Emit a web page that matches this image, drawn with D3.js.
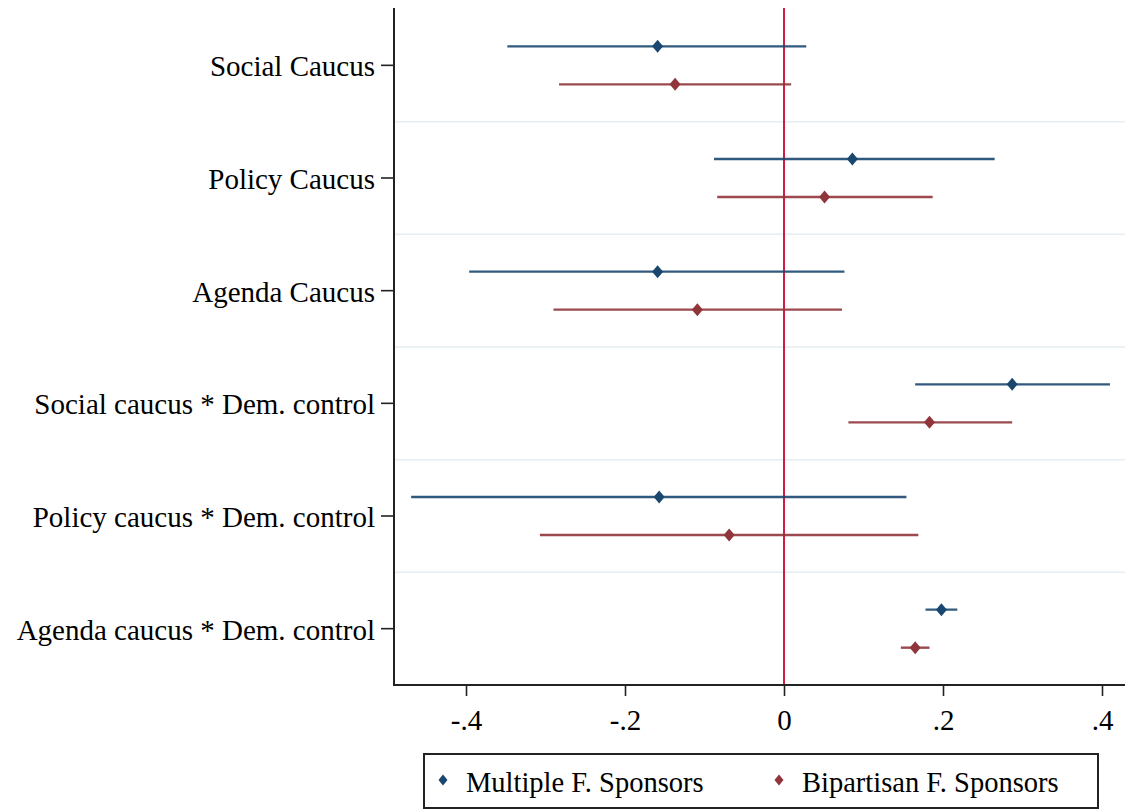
<!DOCTYPE html>
<html>
<head>
<meta charset="utf-8">
<script src="https://cdn.jsdelivr.net/npm/d3@7"></script>
<style>
  html, body { margin: 0; padding: 0; background: #ffffff; }
  svg { display: block; }
  svg text { font-family: 'Liberation Serif', 'Times New Roman', Times, 'DejaVu Serif', serif; fill: #000; }
</style>
</head>
<body>
<svg id="chart" width="1125" height="811"></svg>
<script>
const categories = [
  "Social Caucus",
  "Policy Caucus",
  "Agenda Caucus",
  "Social caucus * Dem. control",
  "Policy caucus * Dem. control",
  "Agenda caucus * Dem. control"
];
const seriesNames = ["Multiple F. Sponsors", "Bipartisan F. Sponsors"];
const multipleEst = [-0.159, 0.086, -0.159, 0.287, -0.157, 0.198];
const multipleLo  = [-0.348, -0.088, -0.396, 0.165, -0.469, 0.178];
const multipleHi  = [0.028, 0.265, 0.076, 0.410, 0.154, 0.218];
const bipartisanEst = [-0.137, 0.051, -0.109, 0.183, -0.069, 0.165];
const bipartisanLo  = [-0.283, -0.084, -0.290, 0.081, -0.307, 0.147];
const bipartisanHi  = [0.009, 0.187, 0.073, 0.287, 0.169, 0.183];
const xTicks = [-0.4, -0.2, 0, 0.2, 0.4];
const xTickLabels = ["-.4", "-.2", "0", ".2", ".4"];

const colors = ["#1a476f", "#90353b"];
const zeroColor = "#d01c45";
const gridColor = "#e6eef1";
const FONT = "'Liberation Serif', 'Times New Roman', Times, 'DejaVu Serif', serif";

const plot = { left: 394, right: 1125, top: 9, bottom: 685 };
const svg = d3.select("#chart");

const x = d3.scaleLinear().domain([-0.4, 0.4]).range([466, 1102]);
const y = d3.scaleBand().domain(categories).range([plot.top, plot.bottom]).paddingInner(0).paddingOuter(0);
const bw = y.bandwidth();
const offset = 19;

// grid lines between groups
svg.append("g").selectAll("line")
  .data(categories.slice(1))
  .join("line")
  .attr("x1", plot.left + 1).attr("x2", plot.right)
  .attr("y1", d => y(d)).attr("y2", d => y(d))
  .attr("stroke", gridColor).attr("stroke-width", 1.5);

// zero line
svg.append("line")
  .attr("x1", x(0)).attr("x2", x(0))
  .attr("y1", plot.top - 1).attr("y2", plot.bottom)
  .attr("stroke", zeroColor).attr("stroke-width", 2);

const series = [
  { name: seriesNames[0], est: multipleEst, lo: multipleLo, hi: multipleHi, dy: -offset, color: colors[0] },
  { name: seriesNames[1], est: bipartisanEst, lo: bipartisanLo, hi: bipartisanHi, dy: offset, color: colors[1] }
];

const diamond = (cx, cy, hw, hh) => `M${cx},${cy - hh}L${cx + hw},${cy}L${cx},${cy + hh}L${cx - hw},${cy}Z`;

series.forEach(s => {
  const g = svg.append("g");
  const rows = categories.map((c, i) => ({ c, est: s.est[i], lo: s.lo[i], hi: s.hi[i] }));
  g.selectAll("line").data(rows).join("line")
    .attr("x1", d => x(d.lo)).attr("x2", d => x(d.hi))
    .attr("y1", d => y(d.c) + bw / 2 + s.dy).attr("y2", d => y(d.c) + bw / 2 + s.dy)
    .attr("stroke", s.color).attr("stroke-width", 2.4).attr("stroke-opacity", 0.9);
  g.selectAll("path").data(rows).join("path")
    .attr("d", d => diamond(x(d.est), y(d.c) + bw / 2 + s.dy, 5.5, 6.5))
    .attr("fill", s.color);
});

// y axis
const yAxis = d3.axisLeft(y).tickSize(13).tickPadding(6).tickSizeOuter(0);
const yg = svg.append("g").attr("transform", `translate(${plot.left},0)`).call(yAxis)
  .attr("font-family", FONT).attr("font-size", 29);
yg.select(".domain").remove();
yg.selectAll(".tick line").attr("stroke", "#222").attr("stroke-width", 1.6);
yg.selectAll(".tick text").attr("fill", "#000").attr("dy", "0.38em");
svg.append("line")
  .attr("x1", plot.left).attr("x2", plot.left)
  .attr("y1", plot.top - 1).attr("y2", plot.bottom + 1)
  .attr("stroke", "#222").attr("stroke-width", 2);

// x axis
const xAxis = d3.axisBottom(x).tickValues(xTicks).tickFormat((d, i) => xTickLabels[i]).tickSize(11).tickPadding(13).tickSizeOuter(0);
const xg = svg.append("g").attr("transform", `translate(0,${plot.bottom})`).call(xAxis)
  .attr("font-family", FONT).attr("font-size", 29);
xg.select(".domain").remove();
xg.selectAll(".tick line").attr("stroke", "#222").attr("stroke-width", 1.6);
xg.selectAll(".tick text").attr("fill", "#000");
svg.append("line")
  .attr("x1", plot.left - 1).attr("x2", plot.right)
  .attr("y1", plot.bottom).attr("y2", plot.bottom)
  .attr("stroke", "#222").attr("stroke-width", 2);

// legend
const legend = svg.append("g").attr("font-family", FONT).attr("font-size", 28.5);
legend.append("rect")
  .attr("x", 424).attr("y", 754).attr("width", 674).attr("height", 54)
  .attr("fill", "#fff").attr("stroke", "#222").attr("stroke-width", 2);
const legendX = [443, 779];
series.forEach((s, i) => {
  legend.append("path").attr("d", diamond(legendX[i], 780, 4.5, 5.5)).attr("fill", s.color);
  legend.append("text").attr("x", legendX[i] + 23).attr("y", 792).text(s.name);
});
</script>
</body>
</html>
